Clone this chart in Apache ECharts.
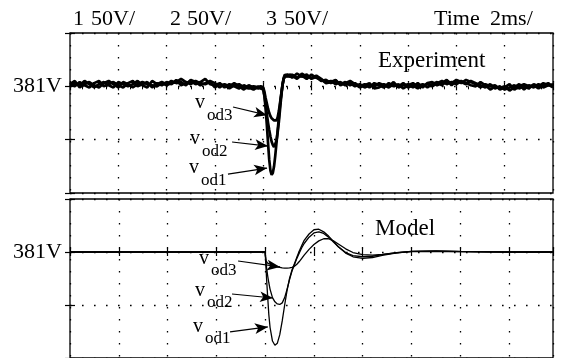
<!DOCTYPE html>
<html><head><meta charset="utf-8">
<script src="https://cdn.jsdelivr.net/npm/echarts@6/dist/echarts.min.js"></script>
<style>html,body{margin:0;padding:0;background:#fff}#main{width:563px;height:358px}</style>
</head><body><div id="main"></div>
<script>
const NOMINAL = 381;
// Experiment (ms, V)
const EXP_T = [0,0.2,0.4,0.6,0.8,1.0,1.2,1.4,1.6,1.8,
 2.0,2.2,2.4,2.6,2.8,3.0,3.2,3.4,3.6,3.8,
 4.0,4.2,4.4,4.6,4.8,5.0,5.2,5.4,5.6,5.8,
 6.0,6.2,6.4,6.6,6.8,7.0,7.2,7.4,7.6,7.8,
 7.9,8.0,8.05,8.1,8.15,8.2,8.25,8.3,8.35,8.4,
 8.45,8.5,8.55,8.6,8.65,8.7,8.75,8.8,8.85,8.9,
 9.0,9.1,9.2,9.4,9.6,9.8,10.0,10.2,10.4,10.6,
 10.8,11.0,11.2,11.4,11.6,11.8,12.0,12.2,12.4,12.6,
 12.8,13.0,13.2,13.4,13.6,13.8,14.0,14.2,14.4,14.6,
 14.8,15.0,15.2,15.4,15.6,15.8,16.0,16.2,16.4,16.6,
 16.8,17.0,17.2,17.4,17.6,17.8,18.0,18.2,18.4,18.6,
 18.8,19.0,19.2,19.4,19.6,19.8,20.0];
const EXP_VOD1 = [384,381,385,382,380,384,386,381,383,385,
 382,380,384,386,381,383,385,380,384,382,
 385,383,387,382,384,386,383,385,388,383,
 382,384,380,383,381,379,382,380,378,381,
 379,378,372,360,345,328,312,302,298,300,
 306,316,328,340,352,364,374,382,388,391,
 392,391,389,393,390,392,388,390,386,387,
 384,386,383,385,382,384,381,383,380,384,
 382,380,384,381,383,379,382,384,381,383,
 380,383,385,382,386,384,387,385,383,386,
 384,382,380,383,379,381,378,380,382,379,
 381,379,383,381,384,382,383];
const EXP_VOD2 = [381,384,382,386,383,380,383,385,382,380,
 385,383,381,383,386,382,380,386,383,385,
 383,386,384,385,382,387,385,382,384,386,
 384,380,383,381,384,381,378,382,380,379,
 380,379,373,364,355,347,340,334,329,326,
 324,325,330,338,348,360,372,382,388,390,
 391,390,392,389,391,388,392,389,387,385,
 386,383,385,382,384,381,383,380,382,381,
 384,382,380,383,381,384,380,382,379,382,
 383,381,384,386,383,385,383,386,384,382,
 381,385,382,378,381,379,381,377,380,383,
 378,382,380,383,380,382,381];
const EXP_VOD3 = [383,386,380,383,385,382,380,384,386,383,
 380,385,383,380,383,385,383,382,381,384,
 382,384,385,388,385,383,386,384,383,385,
 380,383,382,379,382,383,380,379,381,380,
 381,380,376,370,365,360,356,353,351,350,
 349,349,349,352,358,366,374,383,389,392,
 390,392,391,388,393,390,389,391,388,384,
 385,387,382,384,386,383,380,382,384,379,
 380,383,381,385,380,382,383,380,384,380,
 384,385,382,384,387,382,386,384,387,385,
 383,380,383,381,382,378,380,383,378,381,
 383,381,382,379,382,384,380];
// Model (ms, V)
const MODEL_T = [0,8.0,8.03,8.06,8.1,8.15,8.2,8.3,8.4,8.5,8.6,8.7,8.8,8.9,9.0,9.1,9.2,9.3,9.4,9.5,9.6,9.8,10.0,10.2,10.4,10.6,10.8,11.0,11.3,11.6,12.0,12.4,12.8,13.4,14.0,15.0,16.0,17.0,18.0,19.8];
const MODEL_VOD1 = [381,381,368,355,340,322,310,297,293,295,303,316,331,345,356,364,370,376,382,387,392,398,402,402.5,400,396,391,386,380,376.5,375,375.8,377.8,380.2,381.6,382,381.5,381.1,381,381];
const MODEL_VOD2 = [381,381,373,366,359,352,346,338,334,332,331.5,333,338,346,355,363,369,375,380,385,389,395,399,400,398.5,395,390.5,386,380.5,377.5,376.5,377,378.6,380.5,381.5,381.8,381.4,381.1,381,381];
const MODEL_VOD3 = [381,381,373,371.5,370.5,370,369.5,368.5,367.8,367,366.5,366,365.8,365.8,366,366.5,367.5,369.5,372,375,378,383.5,388,391.5,393.5,393.5,391.5,388.5,384,380.5,378.5,378,378.8,380.3,381.3,381.6,381.3,381.1,381,381];
// annotations (data units: ms, V)
const EXP_ARROWS = [[6.75,361.6,8.16,354],[6.71,328.8,8.2,325],[6.54,298.7,8.16,304.4]];
const MODEL_ARROWS = [[6.89,372.5,8.61,366.9],[6.64,341.4,8.32,337.6],[6.56,305.6,8.11,310.3]];
const EXP_LABELS = [['od3',5.18,364.4],['od2',4.97,330.6],['od1',4.93,303.4]];
const MODEL_LABELS = [['od3',5.29,373.5],['od2',5.12,343.3],['od1',5.04,309.3]];
const HEADER = [['1',73],['50V/',91],['2',170],['50V/',187],['3',266],['50V/',284],['Time',434],['2ms/',490]];

const FONT = '"Liberation Serif","Times New Roman",serif';
const pts = (ts, vs) => ts.map((t, i) => [t, vs[i] - NOMINAL]);
const dotted = {show:true, lineStyle:{color:'#000', width:1.3, type:[1.6,10.4], opacity:1}};
const noLabel = {show:false};

function xAx(grid, max, pos, split, minor) {
  return {type:'value', gridIndex:grid, min:0, max:max, interval:2, position:pos,
    axisLine:{show:false}, axisLabel:noLabel,
    axisTick:{show:true, inside:true, length:4, lineStyle:{color:'#000', width:1.2}},
    minorTick:{show:!!minor, splitNumber:4, length:3, lineStyle:{color:'#000', width:1}},
    splitLine: split ? dotted : {show:false}};
}
function yAx(grid, pos, main) {
  return {type:'value', gridIndex:grid, min:-100, max:50, interval:50, position:pos,
    axisLine:{show:false},
    axisLabel: main ? {show:true, margin:8, color:'#000', fontFamily:FONT, fontSize:22,
      formatter: v => v === 0 ? NOMINAL + 'V' : ''} : noLabel,
    axisTick:{show:true, inside:true, length:5, lineStyle:{color:'#000', width:1.2}},
    splitLine: main ? dotted : {show:false}};
}
function arrowLines(arr) {
  return arr.map(a => [{coord:[a[0], a[1]-NOMINAL]}, {coord:[a[2], a[3]-NOMINAL]}]);
}
function line(data, xi, yi, w, extra) {
  return Object.assign({type:'line', data:data, xAxisIndex:xi, yAxisIndex:yi, showSymbol:false,
    symbol:'none', lineStyle:{color:'#000', width:w}, silent:true, animation:false, z:3}, extra||{});
}
function mk(arr) {
  return {markLine:{silent:true, animation:false, symbol:['none','arrow'], symbolSize:[8,13],
    label:{show:false}, lineStyle:{color:'#000', width:1.2, type:'solid'}, data:arrowLines(arr)}};
}

const option = {
  animation:false,
  backgroundColor:'#fff',
  grid:[
    {left:70, top:33, width:483, height:160, show:true, borderColor:'#000', borderWidth:1.3, backgroundColor:'transparent', z:5},
    {left:70, top:199, width:483, height:160, show:true, borderColor:'#000', borderWidth:1.3, backgroundColor:'transparent', z:5}
  ],
  xAxis:[xAx(0,20,'bottom',true,false), xAx(0,20,'top',false,true),
         xAx(1,19.8,'bottom',true,false), xAx(1,19.8,'top',false,false)],
  yAxis:[yAx(0,'left',true), yAx(0,'right',false), yAx(1,'left',true), yAx(1,'right',false)],
  series:[
    line(pts(EXP_T, EXP_VOD1), 0, 0, 2.7, mk(EXP_ARROWS)),
    line(pts(EXP_T, EXP_VOD2), 0, 0, 2.7),
    line(pts(EXP_T, EXP_VOD3), 0, 0, 2.7),
    line(pts(MODEL_T, MODEL_VOD1), 2, 2, 1.3, mk(MODEL_ARROWS)),
    line(pts(MODEL_T, MODEL_VOD2), 2, 2, 1.3),
    line(pts(MODEL_T, MODEL_VOD3), 2, 2, 1.3)
  ]
};
const chart = echarts.init(document.getElementById('main'), null, {renderer:'canvas'});
chart.setOption(option);

function txt(x, y, s, size, align) {
  return {type:'text', x:x, y:y, silent:true,
    style:{text:s, font:size + 'px ' + FONT, fill:'#000', textAlign:align||'left', textVerticalAlign:'middle',
      align:align||'left', verticalAlign:'middle'}};
}
const gr = [];
HEADER.forEach(h => gr.push(txt(h[1], 19, h[0], 22)));
gr.push(txt(378, 61, 'Experiment', 23));
gr.push(txt(375, 229, 'Model', 23));
function addLabels(list, xi, yi) {
  list.forEach(l => {
    const p = chart.convertToPixel({xAxisIndex:xi, yAxisIndex:yi}, [l[1], l[2]-NOMINAL]);
    gr.push(txt(p[0], p[1]-1.5, 'v', 20));
    gr.push(txt(p[0]+12, p[1]+11, l[0], 17));
  });
}
addLabels(EXP_LABELS, 0, 0);
addLabels(MODEL_LABELS, 2, 2);
chart.setOption({graphic:gr});
</script></body></html>
